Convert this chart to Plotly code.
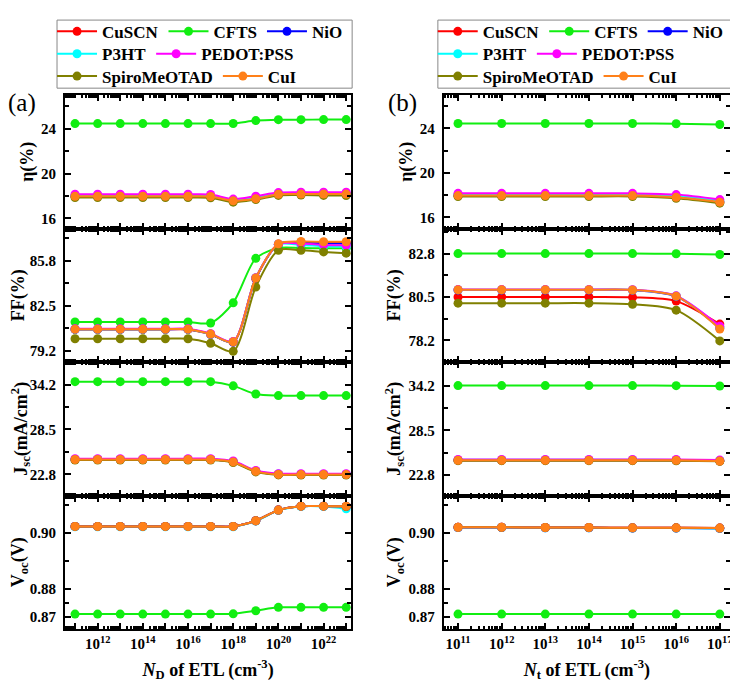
import plotly.graph_objects as go
from plotly.subplots import make_subplots

# x values: donor density (left) and defect density (right) of the ETL
ND = [1e11, 1e12, 1e13, 1e14, 1e15, 1e16, 1e17, 1e18, 1e19, 1e20, 1e21, 1e22, 1e23]
NT = [1e11, 1e12, 1e13, 1e14, 1e15, 1e16, 1e17]

MATERIALS = ["CuSCN", "CFTS", "NiO", "P3HT", "PEDOT:PSS", "SpiroMeOTAD", "CuI"]
COLORS = ["#FF0000", "#11EE11", "#0000FF", "#00FFFF", "#FF00FF", "#808000", "#FF8019"]

# (a) vs N_D
eta_nd = {
    "CuSCN":       [17.98, 17.98, 17.98, 17.98, 17.98, 17.98, 17.96, 17.58, 17.78, 18.16, 18.18, 18.18, 18.18],
    "CFTS":        [24.45, 24.45, 24.45, 24.45, 24.45, 24.45, 24.45, 24.46, 24.72, 24.80, 24.80, 24.81, 24.81],
    "NiO":         [17.99, 17.99, 17.99, 17.99, 17.99, 17.99, 17.97, 17.59, 17.79, 18.17, 18.19, 18.19, 18.19],
    "P3HT":        [18.05, 18.05, 18.05, 18.05, 18.05, 18.05, 18.03, 17.64, 17.85, 18.22, 18.24, 18.24, 18.22],
    "PEDOT:PSS":   [18.15, 18.15, 18.15, 18.15, 18.15, 18.15, 18.13, 17.72, 17.98, 18.30, 18.33, 18.33, 18.33],
    "SpiroMeOTAD": [17.86, 17.86, 17.86, 17.86, 17.86, 17.86, 17.83, 17.45, 17.68, 18.05, 18.08, 18.05, 18.04],
    "CuI":         [17.97, 17.97, 17.97, 17.97, 17.97, 17.97, 17.95, 17.57, 17.76, 18.15, 18.17, 18.17, 18.17],
}
ff_nd = {
    "CuSCN":       [80.78, 80.78, 80.78, 80.78, 80.78, 80.78, 80.42, 79.85, 84.50, 87.00, 87.15, 87.10, 87.10],
    "CFTS":        [81.32, 81.32, 81.32, 81.32, 81.32, 81.32, 81.25, 82.72, 85.97, 86.72, 86.72, 86.70, 86.70],
    "NiO":         [80.79, 80.79, 80.79, 80.79, 80.79, 80.79, 80.43, 79.86, 84.52, 87.00, 87.12, 87.05, 87.05],
    "P3HT":        [80.80, 80.80, 80.80, 80.80, 80.80, 80.80, 80.44, 79.88, 84.55, 86.98, 86.95, 86.85, 86.82],
    "PEDOT:PSS":   [80.82, 80.82, 80.82, 80.82, 80.82, 80.82, 80.46, 79.90, 84.56, 87.00, 87.05, 86.95, 86.92],
    "SpiroMeOTAD": [80.10, 80.10, 80.10, 80.10, 80.10, 80.10, 79.77, 79.18, 83.88, 86.56, 86.56, 86.44, 86.35],
    "CuI":         [80.80, 80.80, 80.80, 80.80, 80.80, 80.80, 80.44, 79.87, 84.54, 87.03, 87.20, 87.18, 87.18],
}
jsc_nd = {
    "CuSCN":       [24.67, 24.67, 24.67, 24.67, 24.67, 24.67, 24.67, 24.37, 23.17, 22.78, 22.76, 22.76, 22.76],
    "CFTS":        [34.57, 34.57, 34.57, 34.57, 34.57, 34.57, 34.57, 34.04, 33.00, 32.80, 32.80, 32.80, 32.80],
    "NiO":         [24.68, 24.68, 24.68, 24.68, 24.68, 24.68, 24.68, 24.38, 23.18, 22.79, 22.77, 22.77, 22.77],
    "P3HT":        [24.72, 24.72, 24.72, 24.72, 24.72, 24.72, 24.72, 24.42, 23.22, 22.82, 22.80, 22.80, 22.80],
    "PEDOT:PSS":   [24.78, 24.78, 24.78, 24.78, 24.78, 24.78, 24.78, 24.48, 23.28, 22.88, 22.86, 22.86, 22.86],
    "SpiroMeOTAD": [24.60, 24.60, 24.60, 24.60, 24.60, 24.60, 24.60, 24.30, 23.10, 22.72, 22.70, 22.70, 22.70],
    "CuI":         [24.67, 24.67, 24.67, 24.67, 24.67, 24.67, 24.67, 24.37, 23.17, 22.78, 22.76, 22.76, 22.76],
}
voc_nd = {
    "CuSCN":       [0.9023, 0.9023, 0.9023, 0.9023, 0.9023, 0.9023, 0.9023, 0.9023, 0.9043, 0.9081, 0.9095, 0.9095, 0.9094],
    "CFTS":        [0.8711, 0.8711, 0.8711, 0.8711, 0.8711, 0.8711, 0.8711, 0.8712, 0.8723, 0.8735, 0.8735, 0.8735, 0.8735],
    "NiO":         [0.9023, 0.9023, 0.9023, 0.9023, 0.9023, 0.9023, 0.9023, 0.9023, 0.9043, 0.9081, 0.9095, 0.9095, 0.9093],
    "P3HT":        [0.9022, 0.9022, 0.9022, 0.9022, 0.9022, 0.9022, 0.9022, 0.9022, 0.9042, 0.9080, 0.9094, 0.9094, 0.9086],
    "PEDOT:PSS":   [0.9023, 0.9023, 0.9023, 0.9023, 0.9023, 0.9023, 0.9023, 0.9023, 0.9043, 0.9081, 0.9095, 0.9095, 0.9094],
    "SpiroMeOTAD": [0.9023, 0.9023, 0.9023, 0.9023, 0.9023, 0.9023, 0.9023, 0.9023, 0.9043, 0.9081, 0.9095, 0.9095, 0.9094],
    "CuI":         [0.9023, 0.9023, 0.9023, 0.9023, 0.9023, 0.9023, 0.9023, 0.9023, 0.9043, 0.9081, 0.9095, 0.9095, 0.9095],
}

# (b) vs N_t
eta_nt = {
    "CuSCN":       [17.97, 17.97, 17.97, 17.97, 17.97, 17.82, 17.40],
    "CFTS":        [24.44, 24.44, 24.44, 24.44, 24.44, 24.42, 24.35],
    "NiO":         [17.97, 17.97, 17.97, 17.97, 17.97, 17.81, 17.39],
    "P3HT":        [18.05, 18.05, 18.05, 18.05, 18.05, 17.93, 17.50],
    "PEDOT:PSS":   [18.16, 18.16, 18.16, 18.16, 18.16, 18.05, 17.60],
    "SpiroMeOTAD": [17.88, 17.88, 17.88, 17.88, 17.88, 17.72, 17.28],
    "CuI":         [17.96, 17.96, 17.96, 17.96, 17.96, 17.80, 17.37],
}
ff_nt = {
    "CuSCN":       [80.50, 80.50, 80.50, 80.50, 80.48, 80.28, 79.06],
    "CFTS":        [82.80, 82.80, 82.80, 82.80, 82.80, 82.79, 82.75],
    "NiO":         [80.87, 80.87, 80.87, 80.87, 80.86, 80.53, 78.85],
    "P3HT":        [80.88, 80.88, 80.88, 80.88, 80.87, 80.55, 78.90],
    "PEDOT:PSS":   [80.89, 80.89, 80.89, 80.89, 80.88, 80.56, 78.95],
    "SpiroMeOTAD": [80.17, 80.17, 80.17, 80.17, 80.11, 79.80, 78.17],
    "CuI":         [80.88, 80.88, 80.88, 80.88, 80.87, 80.54, 78.80],
}
jsc_nt = {
    "CuSCN":       [24.69, 24.69, 24.69, 24.69, 24.69, 24.68, 24.60],
    "CFTS":        [34.20, 34.20, 34.20, 34.20, 34.20, 34.19, 34.15],
    "NiO":         [24.70, 24.70, 24.70, 24.70, 24.70, 24.69, 24.61],
    "P3HT":        [24.74, 24.74, 24.74, 24.74, 24.74, 24.73, 24.65],
    "PEDOT:PSS":   [24.80, 24.80, 24.80, 24.80, 24.80, 24.79, 24.71],
    "SpiroMeOTAD": [24.64, 24.64, 24.64, 24.64, 24.64, 24.63, 24.55],
    "CuI":         [24.69, 24.69, 24.69, 24.69, 24.69, 24.68, 24.60],
}
voc_nt = {
    "CuSCN":       [0.9020, 0.9020, 0.9019, 0.9019, 0.9018, 0.9018, 0.9017],
    "CFTS":        [0.8711, 0.8711, 0.8711, 0.8711, 0.8711, 0.8711, 0.8711],
    "NiO":         [0.9019, 0.9019, 0.9018, 0.9018, 0.9017, 0.9017, 0.9016],
    "P3HT":        [0.9019, 0.9019, 0.9018, 0.9018, 0.9017, 0.9017, 0.9016],
    "PEDOT:PSS":   [0.9020, 0.9020, 0.9019, 0.9019, 0.9018, 0.9018, 0.9017],
    "SpiroMeOTAD": [0.9020, 0.9020, 0.9019, 0.9019, 0.9018, 0.9018, 0.9017],
    "CuI":         [0.9020, 0.9020, 0.9019, 0.9019, 0.9018, 0.9018, 0.9017],
}

Y_TITLES = ["η(%)", "FF(%)", "J<sub>sc</sub>(mA/cm<sup>2</sup>)", "V<sub>oc</sub>(V)"]

FONT = "Liberation Serif, Times New Roman, serif"

# legend rows: which legend each material goes to (left column / right column)
LEG_ROW = {"CuSCN": 0, "CFTS": 0, "NiO": 0, "P3HT": 1, "PEDOT:PSS": 1, "SpiroMeOTAD": 2, "CuI": 2}
LEG_IDS = [["legend", "legend2", "legend3"], ["legend4", "legend5", "legend6"]]

fig = make_subplots(rows=4, cols=2, shared_xaxes=True,
                    vertical_spacing=0, horizontal_spacing=0.1394)

panels = [
    (ND, [eta_nd, ff_nd, jsc_nd, voc_nd]),
    (NT, [eta_nt, ff_nt, jsc_nt, voc_nt]),
]

for c, (xs, series) in enumerate(panels):
    for r, data in enumerate(series):
        for name, color in zip(MATERIALS, COLORS):
            fig.add_trace(go.Scatter(
                x=xs, y=data[name],
                mode="lines+markers",
                name=name,
                line=dict(color=color, width=2, shape="spline", smoothing=0.8),
                marker=dict(color=color, size=9),
                legend=LEG_IDS[c][LEG_ROW[name]],
                showlegend=(r == 0),
            ), row=r + 1, col=c + 1)

axis_common = dict(
    showline=True, linecolor="black", linewidth=2, mirror="allticks",
    ticks="inside", ticklen=6, tickwidth=1.5, tickcolor="black",
    showgrid=False, zeroline=False,
    tickfont=dict(family=FONT, size=15, color="black", weight="bold"),
)

# y axes: ranges and tick values
y_setup = [
    # left column
    [([15.1, 27.0], [16, 20, 24], ["16", "20", "24"], [18, 22, 26]),
     ([78.4, 88.15], [79.2, 82.5, 85.8], ["79.2", "82.5", "85.8"], [80.85, 84.15, 87.45]),
     ([20.1, 37.07], [22.8, 28.5, 34.2], ["22.8", "28.5", "34.2"], [25.65, 31.35]),
     ([0.8658, 0.9133], [0.87, 0.88, 0.90], ["0.87", "0.88", "0.90"], [0.875, 0.89, 0.91])],
    # right column
    [([15.0, 27.0], [16, 20, 24], ["16", "20", "24"], [18, 22, 26]),
     ([77.05, 84.13], [78.2, 80.5, 82.8], ["78.2", "80.5", "82.8"], [79.35, 81.65, 83.95]),
     ([20.2, 37.2], [22.8, 28.5, 34.2], ["22.8", "28.5", "34.2"], [25.65, 31.35]),
     ([0.8658, 0.9133], [0.87, 0.88, 0.90], ["0.87", "0.88", "0.90"], [0.875, 0.89, 0.91])],
]

for c in range(2):
    for r in range(4):
        rng, tv, tt, mv = y_setup[c][r]
        fig.update_yaxes(
            range=rng, tickmode="array", tickvals=tv, ticktext=tt,
            minor=dict(tickmode="array", tickvals=mv, ticks="inside", ticklen=4, tickcolor="black"),
            title=dict(text=Y_TITLES[r], standoff=3,
                       font=dict(family=FONT, size=18, color="black", weight="bold")),
            ticklabelstandoff=4, automargin=True,
            **axis_common, row=r + 1, col=c + 1)

x_ranges = [[10.556, 23.22], [10.675, 17.234]]
x_majors = [ND, NT]
x_labels = [
    ["", "10<sup>12</sup>", "", "10<sup>14</sup>", "", "10<sup>16</sup>", "",
     "10<sup>18</sup>", "", "10<sup>20</sup>", "", "10<sup>22</sup>", ""],
    ["10<sup>11</sup>", "10<sup>12</sup>", "10<sup>13</sup>", "10<sup>14</sup>",
     "10<sup>15</sup>", "10<sup>16</sup>", "10<sup>17</sup>"],
]
x_titles = ["<i>N</i><sub>D</sub> of ETL (cm<sup>-3</sup>)",
            "<i>N</i><sub>t</sub> of ETL (cm<sup>-3</sup>)"]

for c in range(2):
    for r in range(4):
        fig.update_xaxes(
            type="log", range=x_ranges[c],
            tickmode="array", tickvals=x_majors[c], ticktext=x_labels[c],
            minor=dict(ticks="inside", ticklen=3, dtick="D1", tickcolor="black", showgrid=False),
            automargin=False,
            **axis_common, row=r + 1, col=c + 1)
    fig.update_xaxes(
        title=dict(text=x_titles[c], standoff=12,
                   font=dict(family=FONT, size=18, color="black", weight="bold")),
        row=4, col=c + 1)

# legends: three rows per column, framed by a grey box
leg_font = dict(family=FONT, size=17, color="black", weight="bold")
leg_rows_y = [1.1184, 1.0765, 1.0346]
leg_x = [-0.0195, 0.553]
layout_legends = {}
for c in range(2):
    for k in range(3):
        layout_legends[LEG_IDS[c][k]] = dict(
            orientation="h", x=leg_x[c], y=leg_rows_y[k],
            xanchor="left", yanchor="middle",
            bgcolor="rgba(0,0,0,0)", borderwidth=0,
            font=leg_font, itemwidth=40, tracegroupgap=0,
        )

fig.update_layout(**layout_legends)

for x0, x1 in [(-0.012, 0.4318), (0.5607, 1.0015)]:
    fig.add_shape(type="rect", xref="paper", yref="paper",
                  x0=x0, x1=x1, y0=1.0128, y1=1.1403,
                  line=dict(color="#888888", width=1), fillcolor="rgba(0,0,0,0)")

fig.add_annotation(text="(a)", xref="paper", yref="paper", x=-0.0645, y=0.985,
                   xanchor="center", yanchor="middle",
                   showarrow=False, font=dict(family=FONT, size=25, color="black"))
fig.add_annotation(text="(b)", xref="paper", yref="paper", x=0.508, y=0.985,
                   xanchor="center", yanchor="middle",
                   showarrow=False, font=dict(family=FONT, size=25, color="black"))

# the page body adds an 8px offset, so the figure is 8px smaller and the
# top/left margins are reduced to keep the panels where they belong
fig.update_layout(
    width=730, height=679,
    margin=dict(l=57, r=6, t=72, b=58),
    plot_bgcolor="white", paper_bgcolor="white",
    font=dict(family=FONT, color="black"),
)

fig.write_html("out.html")
